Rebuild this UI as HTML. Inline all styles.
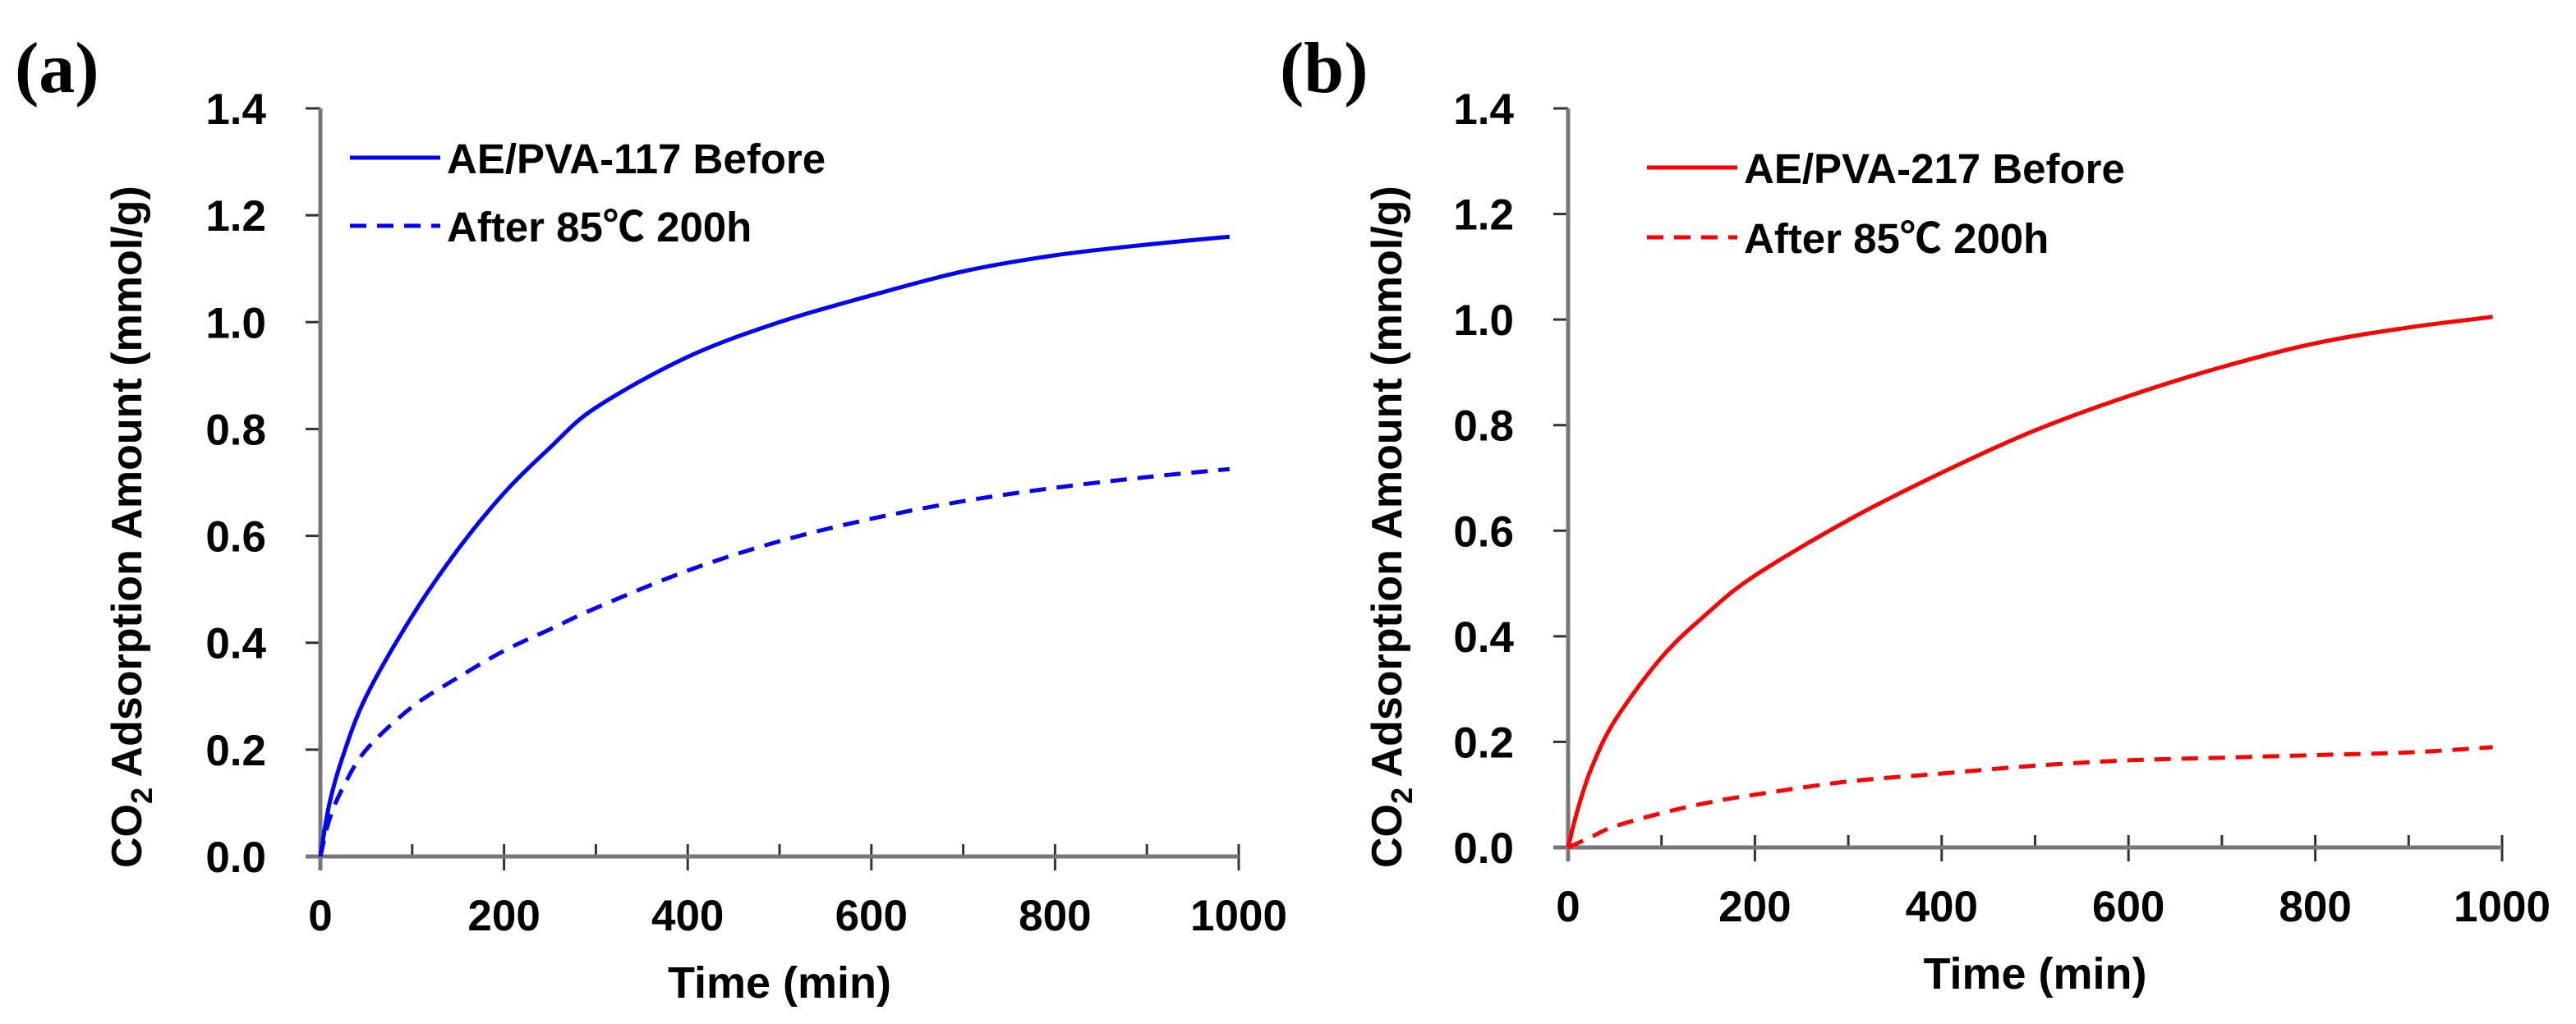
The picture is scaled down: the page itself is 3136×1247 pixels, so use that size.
<!DOCTYPE html>
<html><head><meta charset="utf-8"><style>
html,body{margin:0;padding:0;background:#fff;}
svg{display:block;}
text{font-family:"Liberation Sans",sans-serif;font-weight:bold;fill:#000;}
</style></head><body>
<svg id="fig" width="3136" height="1247" viewBox="0 0 3136 1247" xmlns="http://www.w3.org/2000/svg">
<text x="18" y="112" style="font-family:'Liberation Serif',serif;font-size:88px;font-weight:bold">(a)</text>
<text x="1558" y="112" style="font-family:'Liberation Serif',serif;font-size:88px;font-weight:bold">(b)</text>
</svg>
<script>
// Panel (a)
const timesA = [0, 10, 25, 50, 100, 150, 200, 250, 300, 400, 500, 600, 700, 800, 900, 990];
const beforeA = [0, 0.10, 0.19, 0.30, 0.45, 0.575, 0.68, 0.765, 0.84, 0.935, 1.00, 1.05, 1.095, 1.125, 1.145, 1.16];
const afterA = [0, 0.07, 0.13, 0.20, 0.28, 0.335, 0.385, 0.425, 0.465, 0.535, 0.59, 0.632, 0.665, 0.69, 0.71, 0.725];
// Panel (b)
const timesB = [0, 10, 25, 50, 100, 150, 200, 300, 400, 500, 600, 700, 800, 900, 990];
const beforeB = [0, 0.07, 0.15, 0.24, 0.36, 0.445, 0.515, 0.62, 0.71, 0.79, 0.855, 0.91, 0.955, 0.985, 1.005];
const afterB = [0, 0.008, 0.02, 0.04, 0.065, 0.085, 0.10, 0.125, 0.14, 0.155, 0.165, 0.17, 0.175, 0.18, 0.19];
const xTicks = [0, 200, 400, 600, 800, 1000];
const yTicks = [0.0, 0.2, 0.4, 0.6, 0.8, 1.0, 1.2, 1.4];
const legendA = ["AE/PVA-117 Before", "After 85\u2103 200h"];
const legendB = ["AE/PVA-217 Before", "After 85\u2103 200h"];

const NS = "http://www.w3.org/2000/svg";
const svg = document.getElementById('fig');
function mk(tag, attrs, parent) {
  const e = document.createElementNS(NS, tag);
  for (const k in attrs) e.setAttribute(k, attrs[k]);
  (parent || svg).appendChild(e);
  return e;
}
function smoothPath(P) {
  let d = 'M' + P[0][0].toFixed(1) + ',' + P[0][1].toFixed(1);
  for (let i = 0; i < P.length - 1; i++) {
    const p0 = P[i - 1] || P[i], p1 = P[i], p2 = P[i + 1], p3 = P[i + 2] || p2;
    const c1 = [p1[0] + (p2[0] - p0[0]) / 6, p1[1] + (p2[1] - p0[1]) / 6];
    const c2 = [p2[0] - (p3[0] - p1[0]) / 6, p2[1] - (p3[1] - p1[1]) / 6];
    d += ' C' + c1[0].toFixed(1) + ',' + c1[1].toFixed(1) + ' ' + c2[0].toFixed(1) + ',' + c2[1].toFixed(1) + ' ' + p2[0].toFixed(1) + ',' + p2[1].toFixed(1);
  }
  return d;
}

function panel(p, cfg) {
  const g = mk('g', {});
  
  
  const X = v => cfg.x0 + (v / 1000) * (cfg.x1 - cfg.x0);
  const Y = v => cfg.y0 - (v / 1.4) * (cfg.y0 - cfg.y1);
  for (let t = 100; t < 1000; t += 200) {
    const m = mk('line', {x1: X(t), x2: X(t), y1: cfg.y0 - 15, y2: cfg.y0, stroke: '#333', 'stroke-width': 3}, g);
    
    
  }
  xTicks.forEach(t => {
    const l = mk('line', {x1: X(t), x2: X(t), y1: cfg.y0 - 15, y2: cfg.y0 + 17, stroke: '#333', 'stroke-width': 3}, g);
    
    
    const tx = mk('text', {x: X(t), y: cfg.y0 + 90, 'text-anchor': 'middle', 'font-size': 53}, g);
    tx.textContent = String(t);
    
    
  });
  yTicks.forEach(v => {
    const l = mk('line', {x1: cfg.x0 - 18, x2: cfg.x0, y1: Y(v), y2: Y(v), stroke: '#333', 'stroke-width': 3}, g);
    
    
    const tx = mk('text', {x: cfg.x0 - 66, y: Y(v) + 19, 'text-anchor': 'end', 'font-size': 53}, g);
    tx.textContent = v.toFixed(1);
    
    
  });
  const ax = mk('line', {x1: cfg.x0 - 18, x2: X(1000), y1: cfg.y0, y2: cfg.y0, stroke: '#777', 'stroke-width': 5}, g);
  
  
  const ay = mk('line', {x1: cfg.x0, x2: cfg.x0, y1: cfg.y1, y2: cfg.y0 + 17, stroke: '#777', 'stroke-width': 5}, g);
  
  
  const xt = mk('text', {x: (cfg.x0 + X(1000)) / 2, y: cfg.y0 + 172, 'text-anchor': 'middle', 'font-size': 54}, g);
  xt.textContent = 'Time (min)';
  
  
  const yt = mk('text', {transform: 'translate(' + cfg.yt + ',1057) rotate(-90)', 'font-size': 52}, g);
  
  
  const s1 = mk('tspan', {}, yt); s1.textContent = 'CO';
  const s2 = mk('tspan', {dy: 13, 'font-size': 36}, yt); s2.textContent = '2';
  const s3 = mk('tspan', {dy: -13}, yt); s3.textContent = ' Adsorption Amount (mmol/g)';
  function series(ts, vs, dashed, name) {
    const P = ts.map((t, i) => [X(t), Y(vs[i])]);
    const pl = mk('path', {d: smoothPath(P), fill: 'none', stroke: cfg.color, 'stroke-width': 5, 'stroke-linejoin': 'round'}, g);
    if (dashed) pl.setAttribute('stroke-dasharray', '20 13');
    
    
  }
  series(cfg.t, cfg.b, false, 'series-before-' + p);
  series(cfg.t, cfg.a, true, 'series-after-' + p);
  cfg.legend.forEach((lab, i) => {
    const ly = cfg.ly[i];
    const ln = mk('line', {x1: cfg.lx, x2: cfg.lx + 110, y1: ly, y2: ly, stroke: cfg.color, 'stroke-width': 5}, g);
    if (i === 1) ln.setAttribute('stroke-dasharray', '20 13');
    
    
    const tx = mk('text', {x: cfg.lx + 118, y: ly + 19, 'font-size': 51, style: 'font-family:"Liberation Sans","Noto Sans CJK JP",sans-serif'}, g);
    tx.textContent = lab;
    
    
  });
}

panel('a', {x0: 390, x1: 1508, y0: 1043, y1: 132, yt: 172, color: '#0000ff',
  t: timesA, b: beforeA, a: afterA, legend: legendA, lx: 426, ly: [192, 275]});
panel('b', {x0: 1909, x1: 3046, y0: 1032, y1: 132, yt: 1706, color: '#ff0000',
  t: timesB, b: beforeB, a: afterB, legend: legendB, lx: 2005, ly: [204, 289]});
</script>
</body></html>
